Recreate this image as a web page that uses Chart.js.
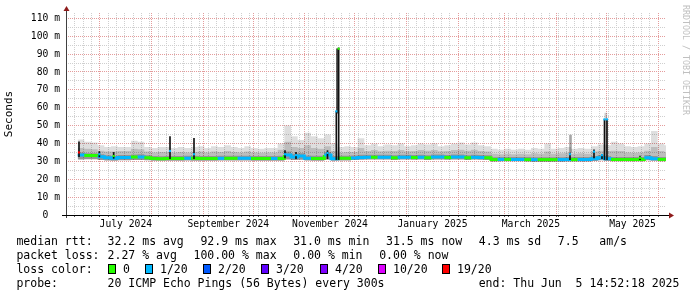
<!DOCTYPE html>
<html>
<head>
<meta charset="utf-8">
<script src="https://cdn.jsdelivr.net/npm/chart.js@4.4.1/dist/chart.umd.min.js"></script>
<style>
  body { margin: 0; background: #fff; }
  #wrap { position: relative; width: 697px; height: 297px; font-family: "DejaVu Sans Mono", monospace; color: #000; }
  #wrap canvas { position: absolute; left: 0; top: 0; }
  .row { position: absolute; left: 0; width: 697px; height: 14px; line-height: 14px; font-size: 11.5px; white-space: pre; }
  .row span { position: absolute; top: 0; }
  .row .box { top: 2px; width: 6px; height: 8px; border: 1px solid #000; }
  #credit { position: absolute; left: 681px; top: 5px; writing-mode: vertical-rl; font-size: 8.3px; line-height: 10px; color: #c0c0c0; white-space: pre; }
</style>
</head>
<body>
<div id="wrap">
  <canvas id="chart" width="697" height="297"></canvas>
  <div id="credit">RRDTOOL / TOBI OETIKER</div>
  <div class="row" style="top:234px">
    <span style="left:16.4px">median rtt:</span>
    <span style="left:107.6px">32.2 ms avg</span>
    <span style="left:200.4px">92.9 ms max</span>
    <span style="left:293.2px">31.0 ms min</span>
    <span style="left:386px">31.5 ms now</span>
    <span style="left:478.8px">4.3 ms sd</span>
    <span style="left:557.8px">7.5   am/s</span>
  </div>
  <div class="row" style="top:248px">
    <span style="left:16.4px">packet loss:</span>
    <span style="left:107.6px">2.27 % avg</span>
    <span style="left:193.5px">100.00 % max</span>
    <span style="left:293.3px">0.00 % min</span>
    <span style="left:379.2px">0.00 % now</span>
  </div>
  <div class="row" id="lossRow" style="top:262px">
    <span style="left:16.4px">loss color:</span>
  </div>
  <div class="row" style="top:276px">
    <span style="left:16.4px">probe:</span>
    <span style="left:107.6px">20 ICMP Echo Pings (56 Bytes) every 300s</span>
    <span style="left:478.7px">end: Thu Jun  5 14:52:18 2025</span>
  </div>
</div>
<script>
// time axis: last 360 days ending Thu Jun 5 2025 14:52:18
const START = Date.UTC(2024, 5, 10, 14, 52, 18);
const DAY = 86400000;
const SPAN = 360;

// smoke data, one value per 4-day bin, first bin starts on day 7
const FIRST_DAY = 7;
const BIN_DAYS = 4;

// median rtt (ms)
const median = [
  33.5, 33.3, 33.3, 32.6, 32.0, 31.8, 32.2, 32.2, 32.4, 32.5,
  32.0, 31.6, 31.5, 31.6, 31.6, 31.6, 31.8, 31.7, 31.6, 31.6,
  31.6, 31.7, 31.7, 31.7, 31.7, 31.7, 31.6, 31.6, 31.6, 31.6,
  31.6, 33.5, 32.4, 33.0, 31.7, 31.6, 31.6, 33.5, 31.5, 31.7,
  31.7, 31.9, 32.2, 32.3, 32.3, 32.3, 32.3, 32.0, 32.3, 32.3,
  32.1, 32.3, 32.0, 32.5, 32.5, 32.2, 32.4, 32.4, 32.0, 32.3,
  32.2, 32.0, 31.0, 31.1, 31.1, 31.1, 31.1, 31.0, 31.0, 31.0,
  31.0, 31.0, 31.0, 31.0, 31.0, 31.0, 31.0, 31.5, 32.0, 31.5,
  31.1, 31.1, 31.1, 31.1, 31.1, 32.0, 31.5, 31.1, 31.1
];
// lost pings out of 20 for each bin
const loss = [
  1, 0, 0, 1, 1, 1, 1, 1, 0, 1,
  0, 0, 0, 0, 0, 0, 1, 0, 0, 0,
  0, 1, 0, 0, 1, 1, 0, 0, 0, 1,
  0, 1, 1, 1, 1, 0, 0, 1, 1, 0,
  0, 1, 1, 1, 0, 1, 1, 0, 1, 1,
  0, 1, 0, 1, 1, 0, 1, 1, 0, 1,
  1, 0, 0, 1, 0, 1, 1, 0, 1, 0,
  0, 0, 1, 1, 0, 1, 1, 1, 1, 1,
  0, 0, 0, 0, 0, 1, 1, 0, 0
];
// smoke: lowest ping, dark band top, medium band top, highest ping (ms)
const smokeLow = [
  31.0, 31.2, 31.2, 30.8, 30.5, 30.4, 30.6, 30.6, 30.7, 30.8,
  30.6, 30.4, 30.3, 30.4, 30.4, 30.4, 30.5, 30.4, 30.4, 30.4,
  30.4, 30.5, 30.5, 30.5, 30.5, 30.5, 30.4, 30.4, 30.4, 30.4,
  30.4, 31.0, 30.8, 30.9, 30.5, 30.4, 30.4, 30.9, 30.3, 30.5,
  30.5, 30.7, 30.9, 31.0, 31.0, 31.0, 31.0, 30.8, 31.0, 31.0,
  30.9, 31.0, 30.8, 31.1, 31.1, 30.9, 31.0, 31.0, 30.8, 31.0,
  30.9, 30.8, 29.9, 30.1, 30.0, 30.0, 30.0, 29.9, 29.8, 29.8,
  29.8, 29.8, 29.8, 29.9, 29.9, 29.9, 29.9, 30.2, 30.6, 30.2,
  30.0, 30.0, 30.0, 30.0, 30.0, 30.6, 30.3, 30.0, 30.0
];
const smokeDark = [
  35.0, 34.6, 34.6, 34.0, 33.4, 33.2, 33.6, 33.6, 33.8, 34.0,
  33.4, 33.0, 32.9, 33.0, 33.0, 33.0, 33.2, 33.1, 33.0, 33.0,
  33.0, 33.1, 33.1, 33.1, 33.1, 33.1, 33.0, 33.0, 33.0, 33.0,
  33.2, 35.5, 34.2, 34.6, 33.3, 33.2, 33.2, 35.2, 33.0, 33.1,
  33.1, 33.3, 33.7, 33.7, 33.7, 33.7, 33.7, 33.4, 33.7, 33.7,
  33.5, 33.7, 33.4, 33.9, 33.9, 33.6, 33.8, 33.8, 33.4, 33.7,
  33.6, 33.4, 32.3, 32.5, 32.5, 32.5, 32.5, 32.4, 32.3, 32.3,
  32.3, 32.3, 32.3, 32.4, 32.4, 32.4, 32.4, 33.0, 33.6, 33.0,
  32.5, 32.5, 32.5, 32.5, 32.5, 33.5, 33.0, 32.5, 32.5
];
const smokeMid = [
  37.5, 37.0, 36.8, 36.0, 35.5, 35.5, 35.8, 35.8, 37.0, 36.8,
  35.5, 35.0, 35.2, 35.2, 35.0, 35.2, 35.0, 35.2, 35.5, 35.0,
  35.5, 35.3, 35.8, 35.3, 35.0, 35.5, 35.0, 34.8, 35.0, 35.0,
  36.5, 41.0, 38.0, 37.5, 39.0, 37.5, 37.0, 38.5, 35.8, 35.0,
  35.3, 35.2, 37.5, 35.8, 36.3, 35.6, 36.0, 35.8, 36.3, 35.6,
  35.8, 36.3, 36.0, 36.3, 35.6, 35.8, 36.3, 36.5, 36.0, 36.5,
  35.8, 35.5, 34.3, 34.0, 34.3, 34.0, 34.3, 34.0, 34.5, 34.3,
  35.5, 34.3, 34.5, 34.8, 34.3, 34.5, 34.3, 35.5, 36.0, 35.8,
  36.0, 35.8, 35.0, 34.8, 35.0, 36.0, 38.0, 35.8, 35.3
];
const smokeHigh = [
  42.3, 41.0, 40.5, 39.0, 38.0, 38.5, 38.0, 38.0, 41.5, 41.0,
  38.0, 37.5, 38.0, 38.0, 37.5, 38.0, 37.5, 38.0, 38.5, 37.5,
  38.5, 38.0, 39.0, 38.0, 37.5, 38.5, 37.5, 37.0, 37.5, 37.5,
  40.0, 50.0, 44.0, 42.0, 46.0, 44.0, 43.0, 45.0, 40.0, 38.0,
  38.5, 38.0, 43.0, 39.0, 40.0, 38.5, 39.5, 39.0, 40.0, 38.5,
  39.0, 40.0, 39.5, 40.0, 38.5, 39.0, 40.0, 40.5, 39.5, 40.5,
  39.0, 38.5, 37.0, 36.5, 37.0, 36.5, 37.0, 36.5, 37.5, 37.0,
  40.0, 37.0, 37.5, 38.0, 37.0, 37.5, 37.0, 38.5, 39.5, 39.0,
  41.0, 40.0, 38.5, 38.0, 38.5, 40.0, 47.0, 40.0, 39.0
];

// short spikes of the median (day, low ms, high ms, median ms, lost pings)
const spikeDays   = [7.8, 20.0, 28.6, 62.4, 76.8, 131.4, 138.0, 156.9, 162.2, 163.6, 302.4, 316.8, 321.6, 323.1, 324.6, 344.4];
const spikeLow    = [32.6, 32.5, 31.7, 31.5, 31.5, 32.0, 31.5, 31.5, 31.0, 31.0, 31.0, 32.0, 31.5, 31.0, 31.0, 31.0];
const spikeHigh   = [41.0, 35.5, 35.0, 43.8, 42.9, 36.0, 35.0, 36.0, 58.0, 93.5, 34.7, 36.4, 34.0, 53.5, 53.5, 33.0];
const spikeMedian = [35.0, 34.0, 33.0, 35.8, 34.0, 34.0, 33.5, 34.7, 58.0, 93.0, 34.0, 35.4, 33.5, 53.5, 53.5, 32.0];
const spikeLoss   = [19, 1, 0, 1, 1, 1, 1, 1, 1, 0, 1, 1, 1, 1, 1, 0];

// narrow smoke columns around the spikes (day, low ms, high ms)
const shadeDays = [162.9, 302.7, 323.9];
const shadeLow  = [57.0, 35.0, 36.0];
const shadeHigh = [93.0, 44.7, 57.0];
const shadeColors = ['rgba(0,0,0,0.75)', 'rgba(0,0,0,0.35)', 'rgba(0,0,0,0.2)'];

// loss legend
const lossSteps  = [0, 1, 2, 3, 4, 10, 19];
const lossLabels = ['0', '1/20', '2/20', '3/20', '4/20', '10/20', '19/20'];
const lossColors = ['#26ff00', '#00b8ff', '#0059ff', '#5e00ff', '#7e00ff', '#dd00ff', '#ff0000'];

// x axis labels every other month
const labelMonths = [[2024, 6], [2024, 8], [2024, 10], [2025, 0], [2025, 2], [2025, 4]];
const monthNames = ['January', 'February', 'March', 'April', 'May', 'June', 'July',
  'August', 'September', 'October', 'November', 'December'];

function lossColor(n) {
  const k = lossSteps.indexOf(n);
  return lossColors[k < 0 ? 0 : k];
}
function dayOf(y, m, d) { return (Date.UTC(y, m, d) - START) / DAY; }

function binSeries(vals) {
  const pts = vals.map((v, i) => ({ x: FIRST_DAY + i * BIN_DAYS, y: v }));
  pts.push({ x: SPAN, y: vals[vals.length - 1] });
  return pts;
}

// legend color boxes
const boxLeft = [108, 145, 203, 261, 320, 378, 442];
const lossRow = document.getElementById('lossRow');
lossLabels.forEach((lab, i) => {
  const b = document.createElement('span');
  b.className = 'box';
  b.style.left = boxLeft[i] + 'px';
  b.style.background = lossColors[i];
  lossRow.appendChild(b);
  const t = document.createElement('span');
  t.style.left = (boxLeft[i] + 15) + 'px';
  t.textContent = lab;
  lossRow.appendChild(t);
});

const MAJOR = '#e49c9c';
const MINOR = '#cfcfcf';
const tickFont = { family: 'DejaVu Sans Mono', size: 9.7 };

// axis lines with the little red arrows
const axisArrows = {
  id: 'axisArrows',
  afterDraw(chart) {
    const { ctx, chartArea: a } = chart;
    const x0 = Math.floor(a.left) + 0.5;
    const y0 = Math.floor(a.bottom) + 0.5;
    ctx.save();
    ctx.strokeStyle = '#404040';
    ctx.lineWidth = 1;
    ctx.beginPath();
    ctx.moveTo(x0, a.bottom + 3);
    ctx.lineTo(x0, a.top - 3);
    ctx.stroke();
    ctx.strokeStyle = '#000';
    ctx.beginPath();
    ctx.moveTo(a.left - 4, y0);
    ctx.lineTo(a.right + 3, y0);
    ctx.stroke();
    ctx.fillStyle = '#8e1b1b';
    ctx.beginPath();
    ctx.moveTo(x0, a.top - 7);
    ctx.lineTo(x0 - 3, a.top - 2);
    ctx.lineTo(x0 + 3, a.top - 2);
    ctx.closePath();
    ctx.fill();
    ctx.beginPath();
    ctx.moveTo(a.right + 8, y0);
    ctx.lineTo(a.right + 3, y0 - 3);
    ctx.lineTo(a.right + 3, y0 + 3);
    ctx.closePath();
    ctx.fill();
    ctx.restore();
  }
};

// smoke layers are translucent so the grid shows through them
const smokeLine = { type: 'line', stepped: true, pointRadius: 0, borderWidth: 0, borderColor: 'transparent' };

new Chart(document.getElementById('chart'), {
  type: 'line',
  data: {
    datasets: [
      { ...smokeLine, data: binSeries(smokeLow), fill: false, order: 20 },
      { ...smokeLine, data: binSeries(smokeHigh), fill: { target: 0 }, backgroundColor: 'rgba(0,0,0,0.13)', order: 19 },
      { ...smokeLine, data: binSeries(smokeMid), fill: { target: 0 }, backgroundColor: 'rgba(0,0,0,0.15)', order: 18 },
      { ...smokeLine, data: binSeries(smokeDark), fill: { target: 0 }, backgroundColor: 'rgba(0,0,0,0.22)', order: 17 },
      {
        type: 'bar',
        data: shadeDays.map((d, i) => ({ x: d, y: [shadeLow[i], shadeHigh[i]] })),
        backgroundColor: shadeColors,
        barThickness: 2,
        grouped: false,
        order: 16
      },
      {
        type: 'line',
        data: binSeries(median),
        stepped: true,
        pointRadius: 0,
        borderWidth: 3,
        borderCapStyle: 'butt',
        fill: false,
        segment: { borderColor: c => lossColor(loss[c.p0DataIndex]) },
        order: 3
      },
      {
        type: 'bar',
        data: spikeDays.map((d, i) => ({ x: d, y: [spikeLow[i], spikeHigh[i]] })),
        backgroundColor: '#111',
        barThickness: 1,
        grouped: false,
        order: 2
      },
      {
        type: 'line',
        data: spikeDays.map((d, i) => ({ x: d, y: spikeMedian[i] })),
        showLine: false,
        pointStyle: 'rect',
        pointRadius: 1.5,
        pointBorderWidth: 0,
        pointBackgroundColor: spikeLoss.map(lossColor),
        order: 1
      }
    ]
  },
  options: {
    responsive: false,
    devicePixelRatio: 1,
    animation: false,
    events: [],
    layout: { padding: { left: 0, top: 13, right: 31, bottom: 0 } },
    plugins: { legend: { display: false }, tooltip: { enabled: false } },
    scales: {
      x: {
        type: 'linear',
        min: 0,
        max: SPAN,
        offset: false,
        afterFit: s => { s.height = 82; },
        afterBuildTicks: s => {
          const ticks = [];
          const months = [];
          for (let k = 1; k <= 12; k++) months.push(dayOf(2024, 5 + k, 1));
          const e0 = START / DAY;
          for (let e = Math.ceil(e0 / 5) * 5; e < e0 + SPAN; e += 5) {
            const v = e - e0;
            if (!months.some(m => Math.abs(m - v) < 0.01)) ticks.push({ value: v, kind: 'minor' });
          }
          months.forEach(v => ticks.push({ value: v, kind: 'major' }));
          labelMonths.forEach(([y, m]) => {
            const v = (dayOf(y, m, 1) + dayOf(y, m + 1, 1)) / 2;
            ticks.push({ value: v, kind: 'label', text: monthNames[m] + ' ' + y });
          });
          ticks.sort((a, b) => a.value - b.value);
          s.ticks = ticks;
        },
        grid: {
          offset: false,
          color: c => c.tick.kind === 'major' ? MAJOR : c.tick.kind === 'minor' ? MINOR : 'transparent',
          tickColor: c => c.tick.kind === 'label' ? 'transparent' : '#555',
          tickLength: 2
        },
        border: { display: false, dash: [1, 1] },
        ticks: {
          autoSkip: false,
          maxRotation: 0,
          padding: 2,
          color: '#000',
          font: tickFont,
          callback: (v, i, t) => t[i].kind === 'label' ? t[i].text : ''
        }
      },
      y: {
        type: 'linear',
        min: 0,
        max: 113,
        afterFit: s => { s.width = 66; },
        grid: {
          drawTicks: false,
          color: c => c.tick.value === 0 ? 'transparent' : c.tick.value % 10 === 0 ? MAJOR : MINOR
        },
        border: { display: false, dash: [1, 1] },
        ticks: {
          stepSize: 5,
          includeBounds: false,
          autoSkip: false,
          padding: 6,
          color: '#000',
          font: tickFont,
          callback: v => v % 10 !== 0 ? '' : v === 0 ? '0  ' : v + ' m'
        },
        title: {
          display: true,
          text: 'Seconds',
          color: '#000',
          font: { family: 'DejaVu Sans Mono', size: 11 },
          padding: { top: 3, bottom: 0 }
        }
      }
    }
  },
  plugins: [axisArrows]
});
</script>
</body>
</html>
